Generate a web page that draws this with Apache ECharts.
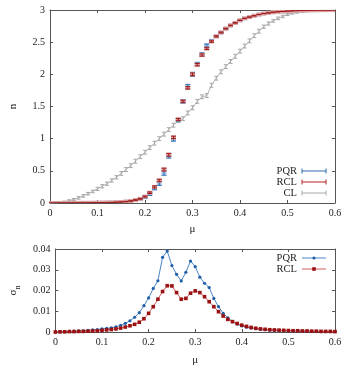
<!DOCTYPE html>
<html><head><meta charset="utf-8">
<script src="https://cdn.jsdelivr.net/npm/echarts@6/dist/echarts.min.js"></script>
<style>html,body{margin:0;padding:0;background:#fff}#c{width:350px;height:368px}</style>
</head><body><div id="c"></div>
<script>
const mu = [0,0.01,0.02,0.03,0.04,0.05,0.06,0.07,0.08,0.09,
 0.1,0.11,0.12,0.13,0.14,0.15,0.16,0.17,0.18,0.19,
 0.2,0.21,0.22,0.23,0.24,0.25,0.26,0.27,0.28,0.29,
 0.3,0.31,0.32,0.33,0.34,0.35,0.36,0.37,0.38,0.39,
 0.4,0.41,0.42,0.43,0.44,0.45,0.46,0.47,0.48,0.49,
 0.5,0.51,0.52,0.53,0.54,0.55,0.56,0.57,0.58,0.59,0.6];

const nPQR = [0,0,0,0,0.001,0.001,0.001,0.002,0.002,0.003,
 0.004,0.005,0.007,0.009,0.012,0.016,0.021,0.03,0.045,0.06,
 0.09,0.14,0.23,0.31,0.47,0.73,0.99,1.29,1.58,1.81,
 2.0,2.16,2.31,2.45,2.52,2.59,2.65,2.71,2.76,2.80,
 2.84,2.87,2.89,2.91,2.93,2.945,2.955,2.965,2.972,2.978,
 2.983,2.987,2.99,2.992,2.994,2.996,2.997,2.998,2.998,2.999,2.999];

const nRCL = [0,0,0,0,0.001,0.001,0.001,0.002,0.002,0.003,
 0.004,0.005,0.007,0.009,0.012,0.016,0.022,0.031,0.046,0.065,
 0.1,0.16,0.25,0.35,0.52,0.75,1.02,1.3,1.58,1.79,
 2.0,2.15,2.3,2.4,2.51,2.59,2.65,2.71,2.76,2.80,
 2.84,2.87,2.89,2.91,2.93,2.945,2.955,2.965,2.972,2.978,
 2.983,2.987,2.99,2.992,2.994,2.996,2.997,2.998,2.998,2.999,2.999];

const nCL = [0,0.002,0.008,0.02,0.035,0.055,0.08,0.11,0.145,0.18,
 0.22,0.26,0.3,0.35,0.4,0.46,0.52,0.58,0.65,0.72,
 0.79,0.86,0.93,1.0,1.07,1.14,1.21,1.28,1.31,1.4,
 1.48,1.58,1.65,1.67,1.83,1.94,2.04,2.12,2.2,2.28,
 2.36,2.44,2.52,2.6,2.67,2.74,2.79,2.83,2.87,2.9,
 2.93,2.95,2.96,2.97,2.98,2.985,2.99,2.995,2.997,2.999,3.0];

const errCL = [0,0.005,0.01,0.01,0.015,0.015,0.02,0.02,0.02,0.02,
 0.025,0.025,0.025,0.025,0.025,0.03,0.03,0.03,0.03,0.03,
 0.03,0.03,0.03,0.03,0.03,0.03,0.03,0.03,0.03,0.03,
 0.03,0.03,0.03,0.03,0.03,0.03,0.03,0.03,0.03,0.03,
 0.03,0.03,0.03,0.03,0.03,0.025,0.025,0.02,0.02,0.02,
 0.015,0.015,0.01,0.01,0.01,0.008,0.006,0.005,0.004,0.003,0.002];

const sigPQR = [0,0.0001,0.0002,0.0003,0.0004,0.0005,0.0006,0.0008,0.001,0.0012,
 0.0015,0.0017,0.002,0.0025,0.0032,0.0042,0.0054,0.0071,0.0093,0.0127,
 0.0164,0.021,0.0247,0.036,0.039,0.032,0.0278,0.0246,0.0288,0.0342,
 0.0315,0.0264,0.0235,0.0214,0.0162,0.0122,0.009,0.0068,0.005,0.0038,
 0.0029,0.0023,0.0019,0.0016,0.0013,0.0011,0.0009,0.0008,0.0007,0.0006,
 0.0005,0.0005,0.0004,0.0004,0.0003,0.0003,0.0003,0.0002,0.0002,0.0002,0.0002];

const sigRCL = [0,0.0001,0.0001,0.0002,0.0002,0.0003,0.0003,0.0004,0.0005,0.0006,
 0.0008,0.001,0.0012,0.0015,0.0019,0.0024,0.003,0.0037,0.0047,0.0064,
 0.009,0.0122,0.0158,0.0195,0.0223,0.0222,0.019,0.0158,0.0162,0.0187,
 0.0198,0.019,0.017,0.0146,0.0122,0.0098,0.0077,0.0061,0.005,0.0041,
 0.0033,0.0027,0.0022,0.0018,0.0015,0.0013,0.0011,0.001,0.0009,0.0008,
 0.0007,0.0006,0.0006,0.0005,0.0005,0.0004,0.0004,0.0003,0.0003,0.0003,0.0002];

const seriesNames = ['PQR','RCL','CL'];

const FONT = 'Liberation Serif';
const AX = '#555';
const chart = echarts.init(document.getElementById('c'), null, {renderer:'canvas'});

function errSeries(name, yv, ev, barColor, markColor, z, cw, showMark) {
  return {
    type:'custom', name, xAxisIndex:0, yAxisIndex:0, z, clip:true,
    data: mu.map((m,i)=>[m, yv[i], ev[i]]),
    renderItem: (params, api) => {
      const x = api.value(0), y = api.value(1), e = api.value(2);
      const p = api.coord([x,y]), lo = api.coord([x,y-e]), hi = api.coord([x,y+e]);
      const ch = [];
      if (showMark) ch.push({type:'rect', shape:{x:p[0]-2.5, y:p[1]-2, width:5, height:4}, style:{fill:markColor}});
      const st = {stroke:barColor, lineWidth:1};
      ch.push({type:'line', shape:{x1:lo[0], y1:lo[1], x2:hi[0], y2:hi[1]}, style:st});
      ch.push({type:'line', shape:{x1:lo[0]-cw, y1:lo[1], x2:lo[0]+cw, y2:lo[1]}, style:st});
      ch.push({type:'line', shape:{x1:hi[0]-cw, y1:hi[1], x2:hi[0]+cw, y2:hi[1]}, style:st});
      return {type:'group', children:ch};
    }
  };
}

const lbl = {fontFamily:FONT, fontSize:10, color:'#222'};
function xAx(grid, pos, show, nameGap) {
  return {type:'value', gridIndex:grid, position:pos, min:0, max:0.6, interval:0.1,
    name: show ? 'μ' : '', nameLocation:'middle', nameGap, nameTextStyle:{fontFamily:FONT, fontSize:11, color:'#222'},
    axisLine:{show:true, onZero:false, lineStyle:{color:AX, width:1}},
    axisTick:{show:true, inside:true, length:3, lineStyle:{color:AX}},
    axisLabel:{show, margin:5, ...lbl}, splitLine:{show:false}};
}
function yAx(grid, pos, show, max, interval, name, nameGap) {
  return {type:'value', gridIndex:grid, position:pos, min:0, max, interval,
    name: show ? name : '', nameLocation:'middle', nameGap, nameRotate:90,
    nameTextStyle:{fontFamily:FONT, fontSize:11, color:'#222',
      rich:{a:{fontFamily:FONT, fontSize:11, color:'#222'}, b:{fontFamily:FONT, fontSize:8, color:'#222', verticalAlign:'bottom', padding:[0,0,-3,0]}}},
    axisLine:{show:true, onZero:false, lineStyle:{color:AX, width:1}},
    axisTick:{show:true, inside:true, length:3, lineStyle:{color:AX}},
    axisLabel:{show, margin:5, ...lbl}, splitLine:{show:false}};
}

const legendTop = [
  {name:seriesNames[0], y:171, c:'#2b6cb0'},
  {name:seriesNames[1], y:182, c:'#b52020'},
  {name:seriesNames[2], y:193, c:'#aaaaaa'}
];
const legendBot = [
  {name:seriesNames[0], y:258, c:'#4a86c6', m:'#1f5fa8', circ:true},
  {name:seriesNames[1], y:269, c:'#d06060', m:'#9b1010', circ:false}
];
const graphics = [];
legendTop.forEach(l=>{
  graphics.push({type:'text', x:297, y:l.y, style:{text:l.name, fontFamily:FONT, fontSize:10.5, fill:'#222', align:'right', verticalAlign:'middle'}});
  graphics.push({type:'line', shape:{x1:302,y1:l.y,x2:326,y2:l.y}, style:{stroke:l.c, lineWidth:1}});
  graphics.push({type:'line', shape:{x1:302,y1:l.y-2.5,x2:302,y2:l.y+2.5}, style:{stroke:l.c, lineWidth:1}});
  graphics.push({type:'line', shape:{x1:326,y1:l.y-2.5,x2:326,y2:l.y+2.5}, style:{stroke:l.c, lineWidth:1}});
});
legendBot.forEach(l=>{
  graphics.push({type:'text', x:297, y:l.y, style:{text:l.name, fontFamily:FONT, fontSize:10.5, fill:'#222', align:'right', verticalAlign:'middle'}});
  graphics.push({type:'line', shape:{x1:302,y1:l.y,x2:326,y2:l.y}, style:{stroke:l.c, lineWidth:1}});
  if (l.circ) graphics.push({type:'circle', shape:{cx:314, cy:l.y, r:1.6}, style:{fill:l.m}});
  else graphics.push({type:'rect', shape:{x:312.2, y:l.y-1.8, width:3.6, height:3.6}, style:{fill:l.m}});
});

chart.setOption({
  animation:false,
  backgroundColor:'#fff',
  grid:[
    {left:48, top:10, width:287, height:193, show:false},
    {left:48, top:249, width:287, height:83, show:false}
  ],
  xAxis:[ xAx(0,'bottom',true,21), xAx(0,'top',false,0), xAx(1,'bottom',true,23), xAx(1,'top',false,0) ],
  yAxis:[ yAx(0,'left',true,3,0.5,'n',31), yAx(0,'right',false,3,0.5,'',0),
          yAx(1,'left',true,0.04,0.01,'{a|σ}{b|n}',33), yAx(1,'right',false,0.04,0.01,'',0) ],
  graphic: graphics,
  series:[
    {type:'line', name:'CL', xAxisIndex:0, yAxisIndex:0, data:mu.map((m,i)=>[m,nCL[i]]), showSymbol:false, symbol:'none',
      lineStyle:{color:'#b4b4b4', width:1}, z:2},
    errSeries('CL', nCL, errCL, '#a8a8a8', '#aaa', 3, 2, false),
    errSeries('PQR', nPQR, sigPQR, '#2b6cb0', '#a9c8ea', 4, 2.5, true),
    errSeries('RCL', nRCL, sigRCL, '#9b1b1b', '#e0a0a0', 5, 2.5, true),
    {type:'line', name:'PQR', xAxisIndex:2, yAxisIndex:2, data:mu.map((m,i)=>[m,sigPQR[i]]),
      symbol:'circle', symbolSize:3.2, showAllSymbol:true, lineStyle:{color:'#4a86c6', width:1}, itemStyle:{color:'#1f5fa8'}, z:3},
    {type:'line', name:'RCL', xAxisIndex:2, yAxisIndex:2, data:mu.map((m,i)=>[m,sigRCL[i]]),
      symbol:'rect', symbolSize:3.6, showAllSymbol:true, lineStyle:{color:'#d06060', width:1}, itemStyle:{color:'#9b1010'}, z:4}
  ]
});
</script></body></html>
